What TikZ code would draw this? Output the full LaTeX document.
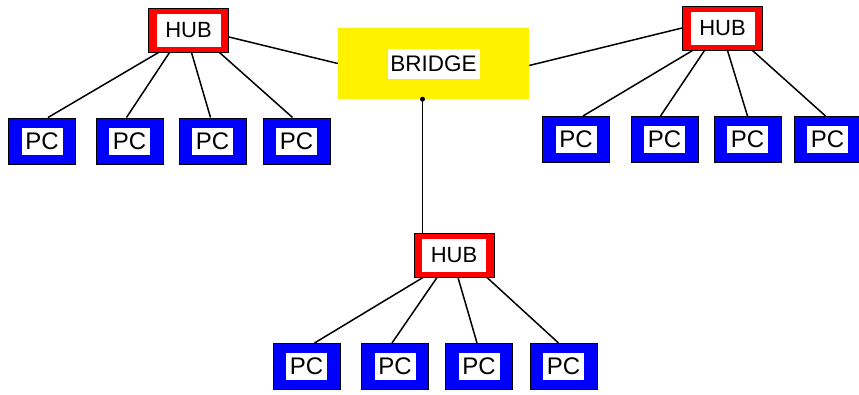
\documentclass[tikz,border=0pt]{standalone}
\usepackage{fontspec}
\setmainfont{Liberation Sans}

\tikzset{
  inner white/.style 2 args={path picture={
    \fill [white] ([shift={(-#1/2,-#2/2)}]path picture bounding box.center)
      rectangle ([shift={(#1/2,#2/2)}]path picture bounding box.center);}},
  hub/.style={draw=black, line width=1pt, fill=red, minimum width=80pt,
    minimum height=44pt, inner sep=0pt, inner white={64pt}{33pt},
    font=\fontsize{22}{25}\selectfont},
  pc/.style={draw=black, line width=1pt, fill=blue, minimum width=67pt,
    minimum height=46pt, inner sep=0pt, inner white={41pt}{27pt},
    font=\fontsize{24}{27}\selectfont},
  bridge/.style={fill=yellow, minimum width=191pt, minimum height=71pt,
    inner sep=0pt, inner white={92pt}{30pt}, font=\fontsize{22.5}{26}\selectfont},
  link/.style={line width=1.5pt},
}

\begin{document}
\begin{tikzpicture}[x=1pt, y=-1pt]
  \useasboundingbox (0,0) rectangle (859,394);

  \node [bridge] (bridge) at (433.5,63.5) {BRIDGE};
  \node [hub] (hubL) at (188.5,30) {HUB};
  \node [hub] (hubR) at (722.5,28) {HUB};
  \node [hub] (hubB) at (454,255) {HUB};

  % left segment
  \node [pc] (pcL1) at (42,141) {PC};
  \node [pc] (pcL2) at (129.5,141) {PC};
  \node [pc] (pcL3) at (212.5,141) {PC};
  \node [pc] (pcL4) at (296.5,141) {PC};

  % right segment
  \node [pc] (pcR1) at (576,139.5) {PC};
  \node [pc] (pcR2) at (664.5,139.5) {PC};
  \node [pc] (pcR3) at (747.5,139.5) {PC};
  \node [pc] (pcR4) at (827.5,139.5) {PC};

  % bottom segment
  \node [pc] (pcB1) at (306.5,366.5) {PC};
  \node [pc] (pcB2) at (395,366.5) {PC};
  \node [pc] (pcB3) at (479,366.5) {PC};
  \node [pc] (pcB4) at (563.5,366.5) {PC};

  % hubs to the bridge
  \draw [link] ([yshift=-7pt]hubL.east) -- (bridge.west);
  \draw [link] ([yshift=-2pt]bridge.east) -- (hubR.west);
  \draw [link] ([xshift=-11pt]bridge.south) -- ([xshift=-11pt]bridge.south |- hubB.north);
  \fill ([xshift=-11pt]bridge.south) circle (2.5pt);

  \draw [link] ([xshift=-30pt]hubL.south) -- ([xshift=6pt]pcL1.north);
  \draw [link] ([xshift=-19pt]hubL.south) -- ([xshift=-3pt]pcL2.north);
  \draw [link] ([xshift=3pt]hubL.south) -- ([xshift=-2pt]pcL3.north);
  \draw [link] ([xshift=31pt]hubL.south) -- ([xshift=-4pt]pcL4.north);

  \draw [link] ([xshift=-30pt]hubR.south) -- ([xshift=7pt]pcR1.north);
  \draw [link] ([xshift=-18pt]hubR.south) -- ([xshift=-4pt]pcR2.north);
  \draw [link] ([xshift=5pt]hubR.south) -- (pcR3.north);
  \draw [link] ([xshift=30pt]hubR.south) -- ([xshift=-2pt]pcR4.north);

  \draw [link] ([xshift=-31pt]hubB.south) -- ([xshift=8pt]pcB1.north);
  \draw [link] ([xshift=-17pt]hubB.south) -- ([xshift=-3pt]pcB2.north);
  \draw [link] ([xshift=4pt]hubB.south) -- ([xshift=-2pt]pcB3.north);
  \draw [link] ([xshift=33pt]hubB.south) -- ([xshift=-5pt]pcB4.north);
\end{tikzpicture}
\end{document}
